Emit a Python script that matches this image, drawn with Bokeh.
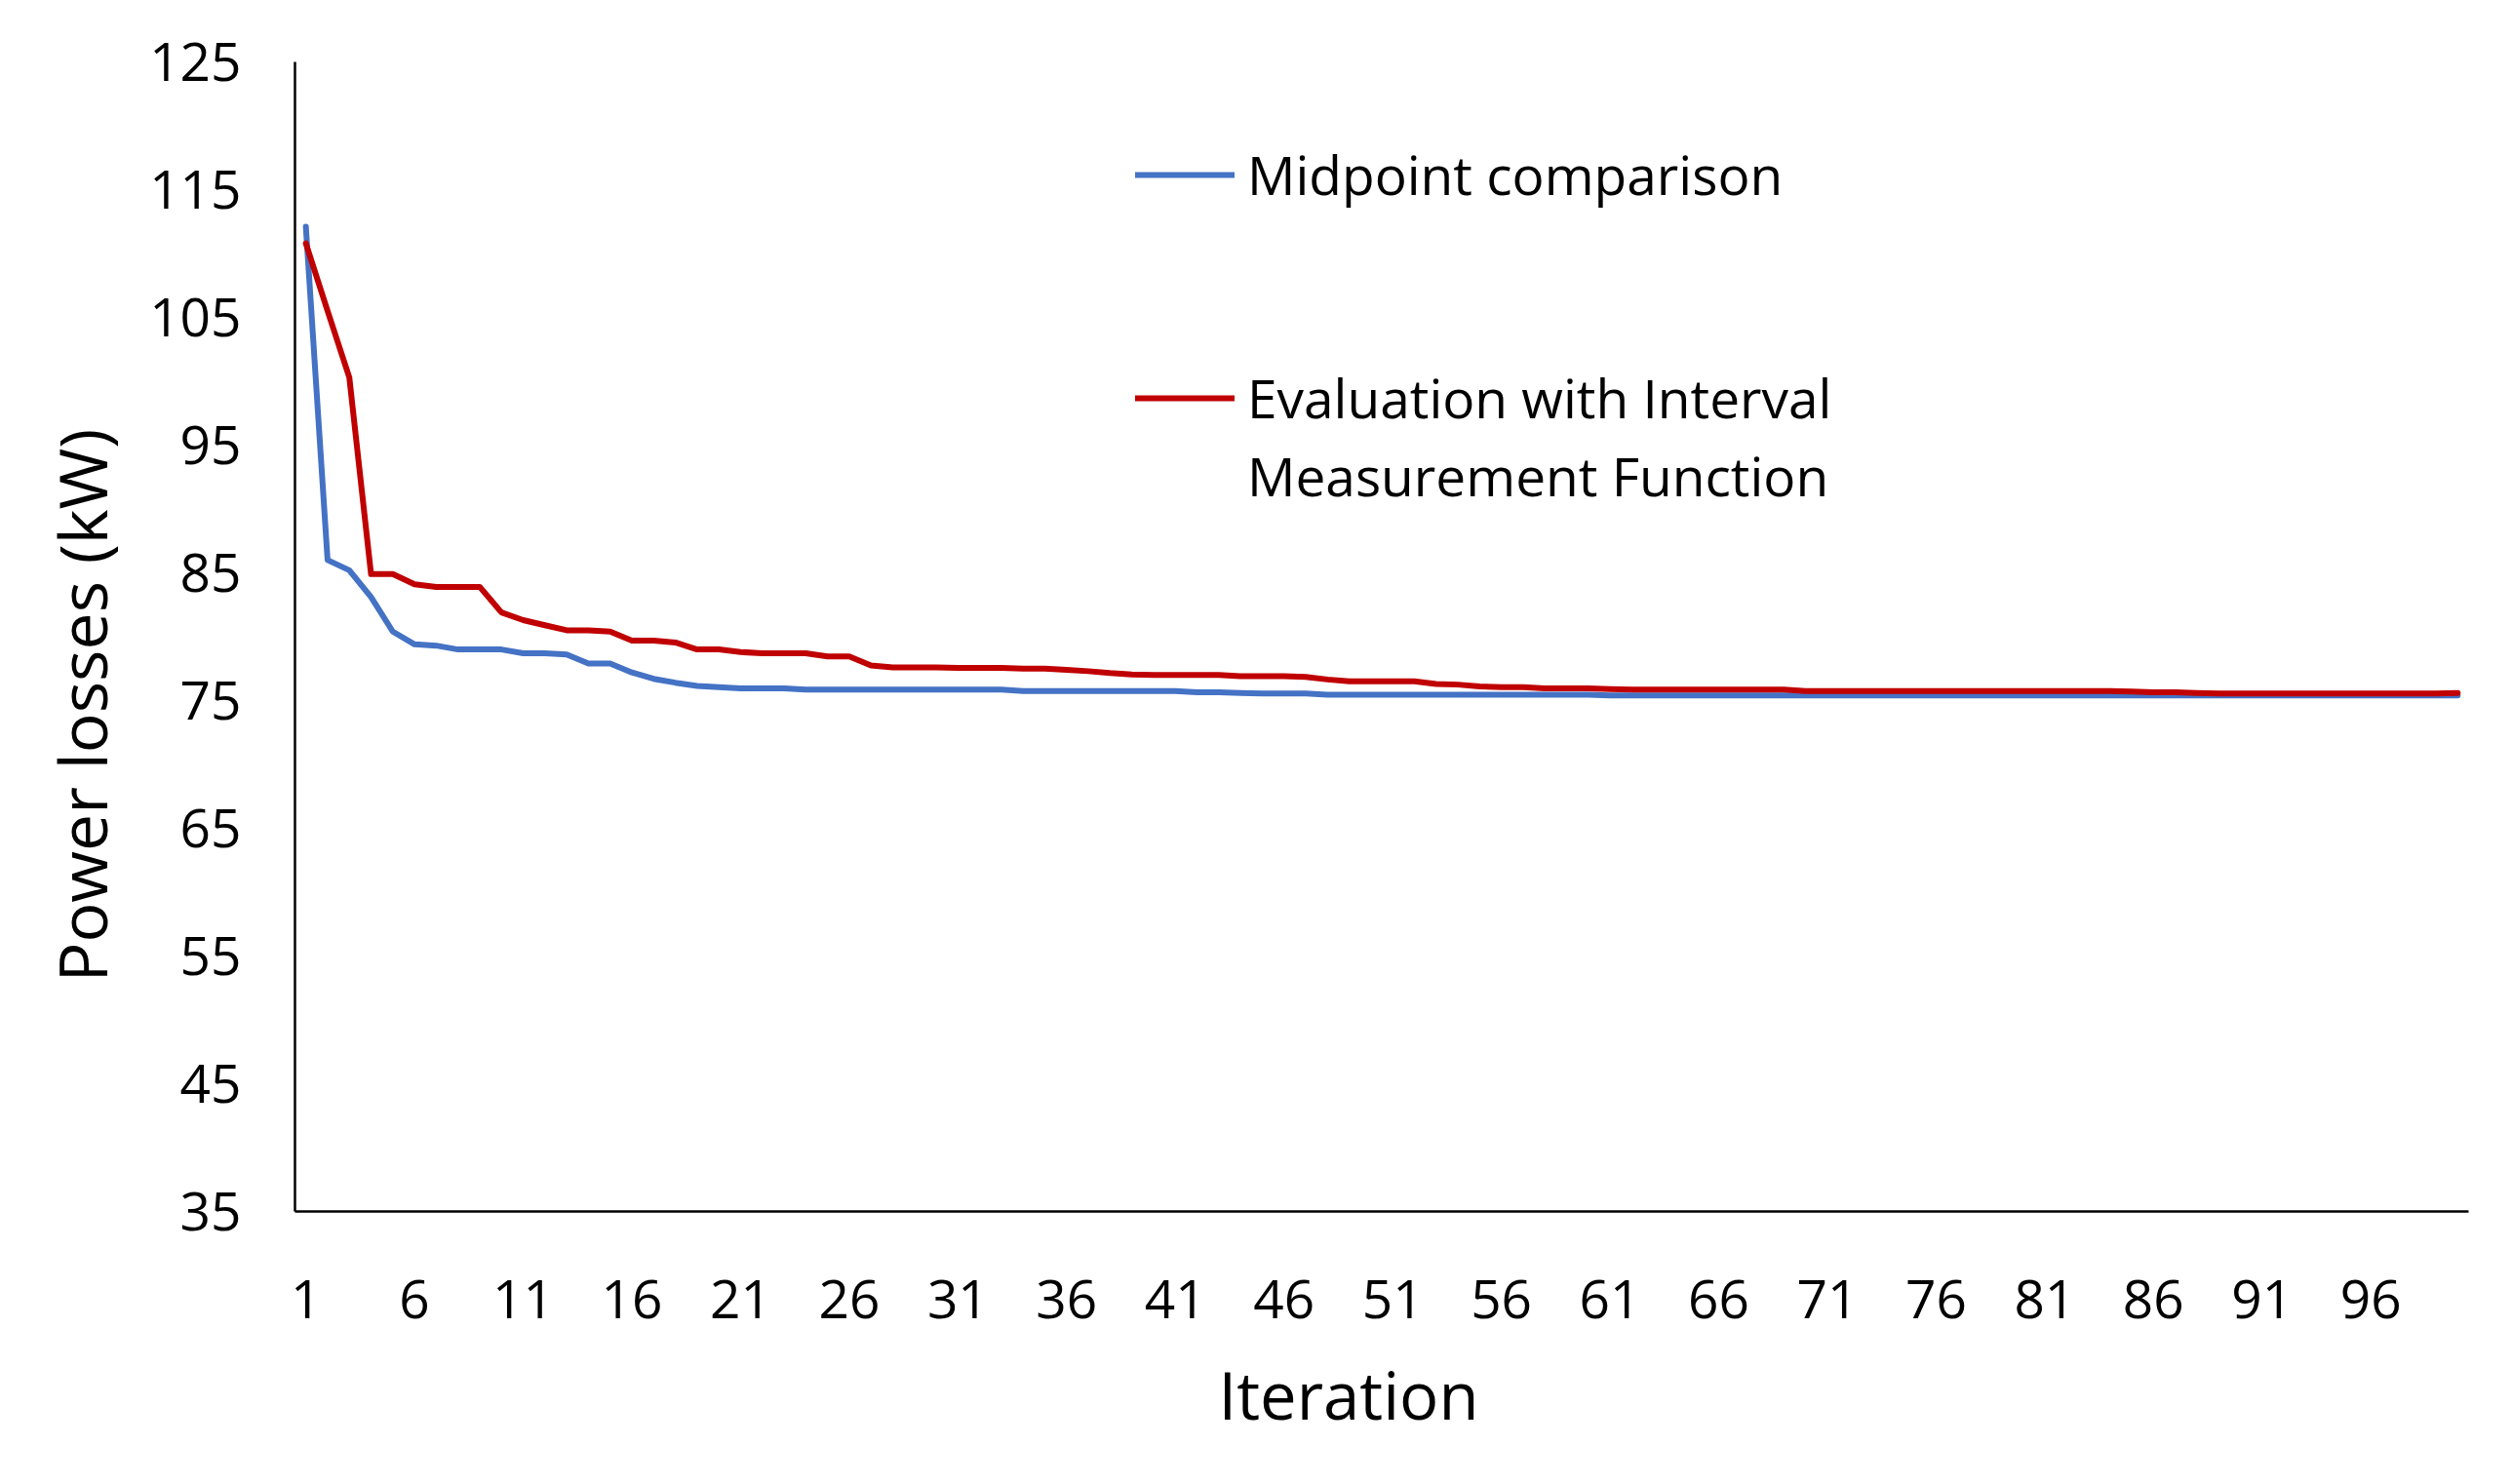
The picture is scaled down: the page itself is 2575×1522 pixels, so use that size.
from bokeh.plotting import figure
from bokeh.models import Range1d, FixedTicker, Legend, LegendItem, Title
from bokeh.embed import file_html
from bokeh.resources import INLINE

iterations = list(range(1, 101))

midpoint = [
    112.1, 86.0, 85.2, 83.1, 80.4, 79.4, 79.3, 79.0, 79.0, 79.0,
    78.7, 78.7, 78.6, 77.9, 77.9, 77.2, 76.7, 76.4, 76.15, 76.05,
    75.95, 75.95, 75.95, 75.85, 75.85, 75.85, 75.85, 75.85, 75.85, 75.85,
    75.85, 75.85, 75.85, 75.75, 75.75, 75.75, 75.75, 75.75, 75.75, 75.75,
    75.75, 75.65, 75.65, 75.6, 75.55, 75.55, 75.55, 75.45, 75.45, 75.45,
    75.45, 75.45, 75.45, 75.45, 75.45, 75.45, 75.45, 75.45, 75.45, 75.45,
    75.4, 75.4, 75.4, 75.4, 75.4, 75.4, 75.4, 75.4, 75.4, 75.4,
    75.4, 75.4, 75.4, 75.4, 75.4, 75.4, 75.4, 75.4, 75.4, 75.4,
    75.4, 75.4, 75.4, 75.4, 75.4, 75.4, 75.4, 75.4, 75.4, 75.4,
    75.4, 75.4, 75.4, 75.4, 75.4, 75.4, 75.4, 75.4, 75.4, 75.4,
]

interval = [
    110.8, 105.5, 100.3, 84.9, 84.9, 84.1, 83.9, 83.9, 83.9, 81.9,
    81.3, 80.9, 80.5, 80.5, 80.4, 79.7, 79.7, 79.55, 79.0, 79.0,
    78.8, 78.7, 78.7, 78.7, 78.45, 78.45, 77.75, 77.6, 77.6, 77.6,
    77.55, 77.55, 77.55, 77.5, 77.5, 77.4, 77.3, 77.15, 77.05, 77.0,
    77.0, 77.0, 77.0, 76.9, 76.9, 76.9, 76.85, 76.65, 76.5, 76.5,
    76.5, 76.5, 76.3, 76.25, 76.1, 76.05, 76.05, 75.95, 75.95, 75.95,
    75.9, 75.85, 75.85, 75.85, 75.85, 75.85, 75.85, 75.85, 75.85, 75.75,
    75.75, 75.75, 75.75, 75.75, 75.75, 75.75, 75.75, 75.75, 75.75, 75.75,
    75.75, 75.75, 75.75, 75.75, 75.7, 75.65, 75.65, 75.6, 75.55, 75.55,
    75.55, 75.55, 75.55, 75.55, 75.55, 75.55, 75.55, 75.55, 75.55, 75.6,
]

x_ticks = [1, 6, 11, 16, 21, 26, 31, 36, 41, 46, 51, 56, 61, 66, 71, 76, 81, 86, 91, 96]
y_ticks = [35, 45, 55, 65, 75, 85, 95, 105, 115, 125]

series_names = ["Midpoint comparison", "Evaluation with Interval", "Measurement Function"]
series_colors = ["#4472C4", "#C00000"]
x_title = "Iteration"
y_title = "Power losses  (kW)"

FONT = "Open Sans"

p = figure(width=2559, height=1506, output_backend="svg", toolbar_location=None,
           x_range=Range1d(0.5, 100.5), y_range=Range1d(35, 125),
           min_border_left=302, min_border_right=28, min_border_top=63,
           min_border_bottom=264)
p.outline_line_color = None
p.xgrid.visible = False
p.ygrid.visible = False
p.background_fill_color = "white"
p.border_fill_color = "white"

r1 = p.line(iterations, midpoint, line_color=series_colors[0], line_width=6,
            line_join="round", line_cap="round")
r2 = p.line(iterations, interval, line_color=series_colors[1], line_width=6,
            line_join="round", line_cap="round")
# invisible renderer used only to carry the second legend text line
r_blank = p.line([], [], line_alpha=0)

for ax in (p.xaxis[0], p.yaxis[0]):
    ax.axis_line_color = "black"
    ax.axis_line_width = 2.5
    ax.major_tick_line_color = None
    ax.minor_tick_line_color = None
    ax.major_tick_out = 0
    ax.major_tick_in = 0
    ax.major_label_text_font = FONT
    ax.major_label_text_font_size = "55px"
    ax.major_label_text_color = "black"

p.xaxis.ticker = FixedTicker(ticks=x_ticks)
p.yaxis.ticker = FixedTicker(ticks=y_ticks)
p.xaxis.major_label_standoff = 70
p.yaxis.major_label_standoff = 55

# axis titles as side titles so they can be offset like the original
yt = Title(text=y_title, align="left", offset=235, standoff=42,
           text_font=FONT, text_font_size="68px", text_font_style="normal",
           text_color="black")
xt = Title(text=x_title, align="left", offset=947, standoff=55,
           text_font=FONT, text_font_size="67px", text_font_style="normal",
           text_color="black")
p.add_layout(yt, "left")
p.add_layout(xt, "below")


def style_legend(lg, spacing):
    lg.label_text_font = FONT
    lg.label_text_font_size = "55px"
    lg.label_text_color = "black"
    lg.glyph_width = 102
    lg.glyph_height = 40
    lg.label_height = 72
    lg.label_standoff = 13
    lg.spacing = spacing
    lg.padding = 0
    lg.margin = 0
    lg.border_line_alpha = 0
    lg.background_fill_alpha = 0


legend_a = Legend(items=[LegendItem(label=series_names[0], renderers=[r1])],
                  location=(862, 1026))
style_legend(legend_a, 0)
legend_b = Legend(items=[LegendItem(label=series_names[1], renderers=[r2]),
                         LegendItem(label=series_names[2], renderers=[r_blank])],
                  location=(862, 717))
style_legend(legend_b, 5)
p.add_layout(legend_a)
p.add_layout(legend_b)

open("out.html", "w").write(file_html(p, INLINE))
